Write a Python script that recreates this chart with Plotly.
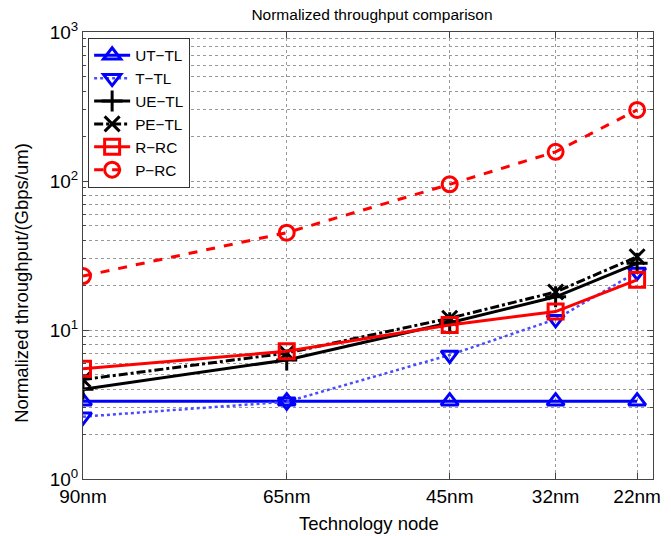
import plotly.graph_objects as go

nodes = [90, 65, 45, 32, 22]
node_labels = ["90nm", "65nm", "45nm", "32nm", "22nm"]

ut_tl = [3.33, 3.33, 3.33, 3.33, 3.33]
t_tl = [2.62, 3.3, 6.8, 11.8, 24.5]
ue_tl = [4.0, 6.3, 11.2, 16.7, 28.0]
pe_tl = [4.65, 7.0, 12.0, 18.0, 31.0]
r_rc = [5.5, 7.2, 10.8, 13.3, 21.7]
p_rc = [23.0, 45.0, 95.0, 157.0, 300.0]

series = [
    ("UT\u2212TL", ut_tl, "#0000ff", "solid", "triangle-up-open", 3),
    ("T\u2212TL", t_tl, "#4a4aff", "dot", "triangle-down-open", 2.5),
    ("UE\u2212TL", ue_tl, "#000000", "solid", "cross-thin-open", 3),
    ("PE\u2212TL", pe_tl, "#000000", "dashdot", "x-thin-open", 3),
    ("R\u2212RC", r_rc, "#ff0000", "solid", "square-open", 3),
    ("P\u2212RC", p_rc, "#ff0000", "dash", "circle-open", 3),
]

fig = go.Figure()
for name, vals, color, dash, sym, lw in series:
    mcolor = "#0000ff" if color == "#4a4aff" else color
    fig.add_trace(go.Scatter(
        x=nodes, y=vals, name=name, mode="lines+markers",
        line=dict(color=color, width=lw, dash=dash),
        marker=dict(symbol=sym, size=15, color=mcolor,
                    line=dict(color=mcolor, width=3)),
    ))

font_family = "Liberation Sans, Arial, Helvetica, sans-serif"
minor_vals = [m * 10 ** k for k in range(0, 3) for m in range(2, 10)]

W, H = 671, 536
L, R, T, B = 83, 10, 32, 57

fig.update_layout(
    width=W, height=H,
    margin=dict(l=L, r=R, t=T, b=B),
    paper_bgcolor="white", plot_bgcolor="white",
    font=dict(family=font_family, size=19, color="black"),
    title=dict(text="Normalized throughput comparison", x=(83 + 661) / 2 / W,
               xanchor="center", y=1 - 15 / H, yanchor="middle",
               font=dict(size=15.5, family=font_family)),
    showlegend=True,
    legend=dict(x=0.009, y=0.987, xanchor="left", yanchor="top",
                bgcolor="white", bordercolor="#333", borderwidth=1,
                font=dict(size=15.3, family=font_family),
                tracegroupgap=0, itemwidth=36),
    xaxis=dict(
        range=[90, 20.05], tickvals=nodes, ticktext=node_labels,
        showgrid=True, gridcolor="#999", griddash="dot", gridwidth=1,
        showline=True, linecolor="#444", linewidth=1, mirror="ticks",
        ticks="inside", ticklen=6, tickcolor="#444", zeroline=False,
        tickfont=dict(size=19),
    ),
    yaxis=dict(
        type="log", range=[0, 3],
        tickvals=[1, 10, 100, 1000],
        ticktext=["10<sup>0</sup>", "10<sup>1</sup>", "10<sup>2</sup>", "10<sup>3</sup>"],
        showgrid=True, gridcolor="#999", griddash="dot", gridwidth=1,
        showline=True, linecolor="#444", linewidth=1, mirror="ticks",
        ticks="inside", ticklen=6, tickcolor="#444", zeroline=False,
        minor=dict(tickvals=minor_vals, ticks="inside", ticklen=3, tickcolor="#444",
                   showgrid=True, gridcolor="#999", griddash="dot", gridwidth=1),
        tickfont=dict(size=19),
    ),
    annotations=[
        dict(text="Technology node", xref="paper", yref="paper",
             x=(373 - L) / (W - L - R), y=-(523 - (H - B)) / (H - T - B),
             xanchor="center", yanchor="middle", showarrow=False,
             font=dict(size=18.5, family=font_family)),
        dict(text="Normalized throughput/(Gbps/um)", xref="paper", yref="paper",
             x=-(L - 20) / (W - L - R), y=(H - B - 283) / (H - T - B),
             xanchor="center", yanchor="middle", textangle=-90, showarrow=False,
             font=dict(size=18.5, family=font_family)),
    ],
)

fig.write_html("out.html")
